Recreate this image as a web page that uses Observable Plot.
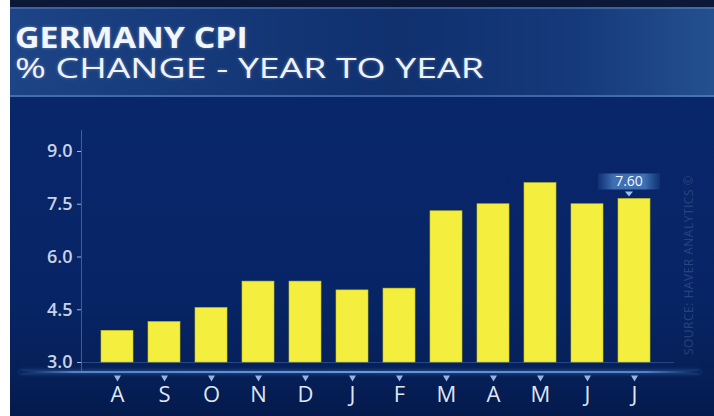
<!DOCTYPE html>
<html>
<head>
<meta charset="utf-8">
<script src="https://cdn.jsdelivr.net/npm/d3@7"></script>
<script src="https://cdn.jsdelivr.net/npm/@observablehq/plot@0.6"></script>
<style>
  html, body { margin: 0; padding: 0; background: #ffffff; }
  #frame { position: relative; width: 714px; height: 416px; overflow: hidden; background: #ffffff; font-family: "Open Sans", sans-serif; }
  #topstrip { position: absolute; left: 10px; top: 0; width: 704px; height: 7px; background: #0b1838; }
  #band { position: absolute; left: 10px; top: 7px; width: 704px; height: 90px;
    background: linear-gradient(90deg, #1d4486 0%, #163a7a 25%, #10306e 55%, #15397a 80%, #24508f 100%);
    box-shadow: inset 0 2px 0 rgba(120,160,220,0.35), inset 0 -2px 0 rgba(120,160,220,0.45); }
  #chartbg { position: absolute; left: 10px; top: 97px; width: 704px; height: 319px;
    background: linear-gradient(180deg, #08266a 0%, #072566 60%, #062059 86%, #041a4c 100%); }
  #title { position: absolute; left: 15px; top: 23px; margin: 0; color: #f2f6ff; font-size: 28px; font-weight: 700; line-height: 1; white-space: nowrap;
    transform: scaleX(1.21); transform-origin: left center; text-shadow: 0 0 3px rgba(255,255,255,0.35); }
  #subtitle { position: absolute; left: 15px; top: 53px; margin: 0; color: #eef3ff; font-size: 28px; font-weight: 400; line-height: 1; white-space: nowrap;
    transform: scaleX(1.335); transform-origin: left center; text-shadow: 0 0 3px rgba(255,255,255,0.3); }
  #baseglow { position: absolute; left: 20px; top: 371px; width: 680px; height: 2px;
    background: linear-gradient(90deg, rgba(110,160,230,0) 0%, rgba(110,165,235,0.75) 8%, rgba(120,175,240,0.85) 50%, rgba(110,165,235,0.75) 92%, rgba(110,160,230,0) 100%);
    box-shadow: 0 0 4px rgba(110,170,240,0.6); }
  #source { position: absolute; left: 688px; top: 265px; transform: translate(-50%, -50%) rotate(-90deg); white-space: nowrap; font-size: 12px; color: rgba(170,195,235,0.22); letter-spacing: 0.5px; }
  #chart { position: absolute; left: 0; top: 97px; }
</style>
</head>
<body>
<div id="frame">
  <div id="topstrip"></div>
  <div id="band"></div>
  <div id="chartbg"></div>
  <div id="title">GERMANY CPI</div>
  <div id="subtitle">% CHANGE - YEAR TO YEAR</div>
  <div id="baseglow"></div>
  <div id="source">SOURCE: HAVER ANALYTICS ©</div>
  <div id="chart"></div>
</div>
<script>
const months = ["A", "S", "O", "N", "D", "J", "F", "M", "A", "M", "J", "J"];
const values = [3.9, 4.15, 4.55, 5.3, 5.3, 5.05, 5.1, 7.3, 7.5, 8.1, 7.5, 7.65];
const yTicks = [3.0, 4.5, 6.0, 7.5, 9.0];
const labelText = "7.60";
const yBase = 3.0;

const keys = months.map((m, i) => String(i));
const data = months.map((m, i) => ({key: keys[i], month: m, value: values[i]}));

const chart = Plot.plot({
  width: 714,
  height: 319,
  marginLeft: 81,
  marginRight: 40,
  marginTop: 33,
  marginBottom: 44,
  style: {background: "transparent", overflow: "visible"},
  x: {domain: keys, range: [92.4, 658.8], paddingInner: 0.32, paddingOuter: 0.16, axis: null},
  y: {domain: [3, 9], range: [265, 54], axis: null},
  marks: [
    Plot.ruleY([yBase], {stroke: "#4a78c0", strokeOpacity: 0.45, strokeWidth: 1}),
    Plot.frame({anchor: "left", stroke: "#5b86c8", strokeOpacity: 0.6}),
    Plot.barY(data, {x: "key", y1: yBase, y2: "value", fill: "#f4ef3e", stroke: "#c9c21a", strokeWidth: 0.6}),
    Plot.barY(data, {x: "key", y1: "value", y2: "value", fill: "none", stroke: "#fffcae", strokeWidth: 2, insetLeft: 1, insetRight: 1, dy: 1}),
    Plot.axisY({ticks: yTicks, label: null, tickFormat: d3.format(".1f"), tickSize: 4, tickPadding: 5, stroke: "#9fb6dc", fill: "#c8d2e6", fontSize: 18, fontWeight: 600, fontFamily: "Open Sans"}),
    Plot.axisX({label: null, tickSize: 0, tickPadding: 14, tickFormat: (d) => months[+d], fill: "#dfe6f2", fontSize: 22, fontWeight: 400, fontFamily: "Open Sans"}),
    Plot.dot(data, {x: "key", frameAnchor: "bottom", dy: 5, symbol: "triangle", rotate: 180, r: 2.6, fill: "#8fb5e6"})
  ]
});

document.getElementById("chart").appendChild(chart);

// value callout on last bar, positioned via the chart's own scales
const last = data[data.length - 1];
const sx = chart.scale("x");
const sy = chart.scale("y");
const cx = sx.apply(last.key) + sx.bandwidth / 2 - 5;
const cy = sy.apply(last.value);
const svg = d3.select(chart);
const defs = svg.append("defs");
const grad = defs.append("linearGradient").attr("id", "calloutGrad");
grad.append("stop").attr("offset", "0%").attr("stop-color", "#3f74b8").attr("stop-opacity", 0.15);
grad.append("stop").attr("offset", "25%").attr("stop-color", "#4c82c6").attr("stop-opacity", 0.8);
grad.append("stop").attr("offset", "75%").attr("stop-color", "#4c82c6").attr("stop-opacity", 0.8);
grad.append("stop").attr("offset", "100%").attr("stop-color", "#3f74b8").attr("stop-opacity", 0.15);
const g = svg.append("g");
g.append("rect").attr("x", cx - 31).attr("y", cy - 25).attr("width", 62).attr("height", 16).attr("fill", "url(#calloutGrad)");
g.append("text").attr("x", cx).attr("y", cy - 12.5).attr("text-anchor", "middle")
  .attr("font-family", "Open Sans").attr("font-size", 14).attr("fill", "#f2f6ff").text(labelText);
g.append("path").attr("d", `M${cx - 4},${cy - 7}L${cx + 4},${cy - 7}L${cx},${cy - 2}Z`).attr("fill", "#9cc3f0");
</script>
</body>
</html>
